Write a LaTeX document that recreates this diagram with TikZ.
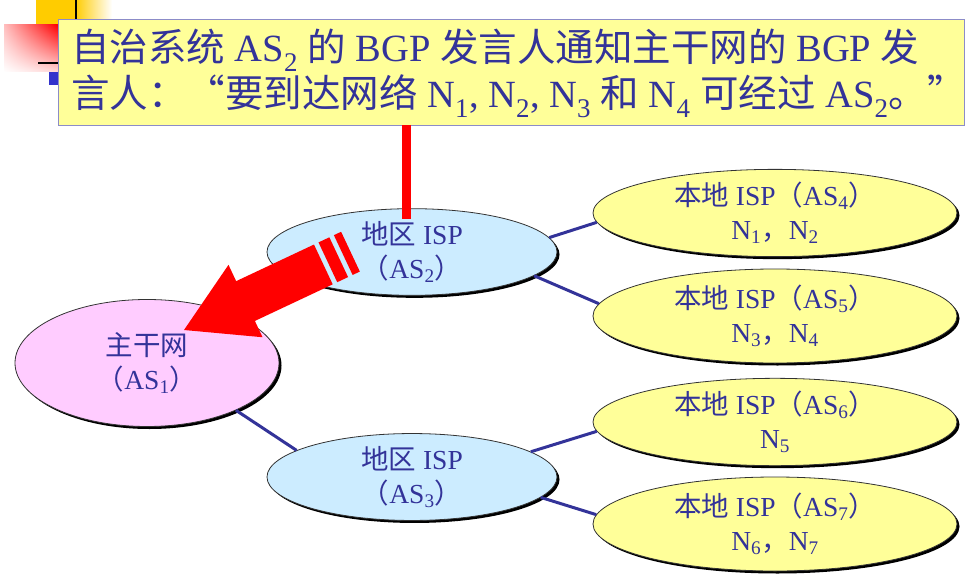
\documentclass[tikz,border=0pt]{standalone}
\usepackage{fontspec}
\setmainfont{Liberation Serif}
\newfontfamily\cjk{Noto Sans CJK SC}
\usetikzlibrary{shapes.geometric,shadows,shadings}
\definecolor{txtblue}{RGB}{51,51,153}
\definecolor{boxfill}{RGB}{255,255,153}
\definecolor{boxborder}{RGB}{140,140,200}
\definecolor{pinkfill}{RGB}{255,204,255}
\definecolor{bluefill}{RGB}{204,236,255}
\definecolor{yelfill}{RGB}{255,255,153}
\definecolor{decoyellow}{RGB}{255,204,0}
\definecolor{decoblue}{RGB}{51,51,204}
\newcommand\zh[1]{{\cjk #1}}
\newcommand\sbs[1]{\textsubscript{#1}}
\tikzset{
  ell/.style={ellipse, draw=black!80, line width=0.8pt, inner sep=0pt, align=center,
    text=txtblue, font=\fontsize{27.5}{34}\selectfont,
    drop shadow={shadow xshift=2.5pt, shadow yshift=-2.5pt, fill=black, opacity=1}},
  isp/.style={ell, fill=yelfill, minimum width=364, minimum height=88},
  reg/.style={ell, fill=bluefill, minimum width=290, minimum height=75},
  conn/.style={draw=txtblue, line width=3pt},
  boxtext/.style={anchor=base west, inner sep=0pt, align=left, text=txtblue, font=\fontsize{38.5}{46}\selectfont},
}
\begin{document}
\begin{tikzpicture}[x=1pt,y=-1pt]
\useasboundingbox (0,0) rectangle (977,575);
% corner decoration
\fill[decoyellow] (36,0) rectangle (75,25);
\shade[left color=decoyellow, right color=white] (75,0) rectangle (112,22);
\draw[black, line width=1.5pt] (76,0) -- (76,25);
\shade[upper left=red!25, upper right=red, lower left=white, lower right=red!15] (4,25) rectangle (58,72);
\draw[black, line width=1.5pt] (38,63) -- (58,63);
\fill[decoblue] (49,72) rectangle (58,85);
% callout box
\node[draw=boxborder, fill=boxfill, line width=1pt, minimum width=906, minimum height=106, anchor=north west, inner sep=0pt] (box) at (58,19) {};
\node[boxtext] (callout) at (71,108) {\zh{自治系统} AS\sbs{2} \zh{的} BGP \zh{发言人通知主干网的} BGP \zh{发}\\
\zh{言人：“要到达网络} N\sbs{1}, N\sbs{2}, N\sbs{3} \zh{和} N\sbs{4} \zh{可经过} AS\sbs{2}\zh{。”}};
% ellipses
\node[ell, fill=pinkfill, minimum width=264, minimum height=127] (as1) at (147,363) {\zh{主干网}\\\zh{（}AS\sbs{1}\zh{）}};
\node[reg] (as2) at (412,252) {\zh{地区} ISP\\\zh{（}AS\sbs{2}\zh{）}};
\node[reg] (as3) at (412,477) {\zh{地区} ISP\\\zh{（}AS\sbs{3}\zh{）}};
\node[isp, minimum height=86] (as4) at (775,213) {\zh{本地} ISP\zh{（}AS\sbs{4}\zh{）}\\N\sbs{1}\zh{，}N\sbs{2}};
\node[isp, minimum height=94] (as5) at (775,316) {\zh{本地} ISP\zh{（}AS\sbs{5}\zh{）}\\N\sbs{3}\zh{，}N\sbs{4}};
\node[isp, minimum height=86] (as6) at (775,422) {\zh{本地} ISP\zh{（}AS\sbs{6}\zh{）}\\N\sbs{5}};
\node[isp, minimum height=94] (as7) at (775,524) {\zh{本地} ISP\zh{（}AS\sbs{7}\zh{）}\\N\sbs{6}\zh{，}N\sbs{7}};
% connectors
\draw[conn] (as2.6) -- (as4.183);
\draw[conn] (as2.349) -- (as5.176);
\draw[conn] (as1.332) -- (as3.167);
\draw[conn] (as3.12) -- (as6.183);
\draw[conn] (as3.351) -- (as7.177);
% red vertical line
\coordinate (rtop) at (406,125);
\coordinate (rbot) at (406,219);
\draw[red, line width=9pt] (rtop) -- (rbot);
% big red arrow
\begin{scope}[shift={(184,330)}, rotate=25.2]
\fill[red] (0,0) -- (68,-40) -- (68,-22) -- (154,-22) -- (154,22) -- (68,22) -- (68,40) -- cycle;
\fill[red] (159,-22) rectangle (171,22);
\fill[red] (176,-22) rectangle (184,22);
\end{scope}
\end{tikzpicture}
\end{document}
